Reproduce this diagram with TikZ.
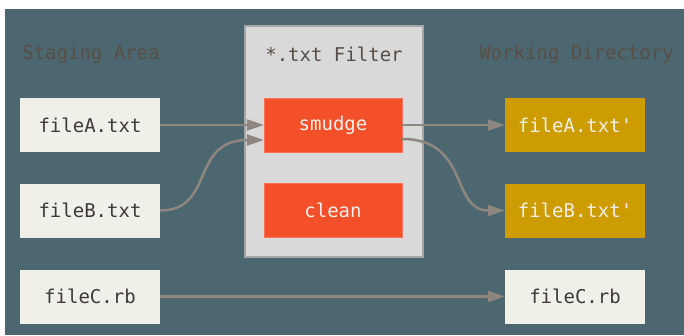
\documentclass[tikz,border=0pt]{standalone}
\usepackage{fontspec}
\setmonofont{DejaVu Sans Mono}
\usetikzlibrary{arrows.meta}

\definecolor{slatebg}{RGB}{76,103,112}
\definecolor{paper}{RGB}{240,239,232}
\definecolor{gitred}{RGB}{243,80,41}
\definecolor{gold}{RGB}{204,156,0}
\definecolor{filtergray}{RGB}{217,217,217}
\definecolor{filteredge}{RGB}{166,166,166}
\definecolor{wire}{RGB}{141,135,127}
\definecolor{headtxt}{RGB}{88,78,70}
\definecolor{inktxt}{RGB}{62,58,54}

\tikzset{
  filebox/.style={fill=paper,minimum width=140pt,minimum height=54pt,inner sep=0pt,text=inktxt,font=\ttfamily\fontsize{19}{22}\selectfont},
  outbox/.style={filebox,fill=gold,text=paper},
  filterbox/.style={filebox,fill=gitred,draw=gitred!80!white,minimum width=138pt,text=paper},
  headline/.style={text=headtxt,font=\ttfamily\fontsize{19}{22}\selectfont,inner sep=0pt},
  wirearrow/.style={draw=wire,line width=2.5pt,-{Triangle[length=17pt,width=11pt]}}
}

\begin{document}
\begin{tikzpicture}[x=1pt,y=-1pt]
\useasboundingbox (0,0) rectangle (684,335);
\fill[white] (0,0) rectangle (684,335);
\fill[slatebg] (5,9) rectangle (684,335);
% filter frame
\node[draw=filteredge,line width=2pt,fill=filtergray,minimum width=178pt,minimum height=231pt,inner sep=0pt] (frame) at (333.5,141) {};
% headings
\node[headline] (stage) at (91,54) {Staging Area};
\node[headline] (filt) at (334,54) {*.txt Filter};
\node[headline] (work) at (576.5,54) {Working Directory};
% staging area
\node[filebox] (inA) at (90,125) {fileA.txt};
\node[filebox] (inB) at (90,210.5) {fileB.txt};
\node[filebox] (inC) at (90,296.5) {fileC.rb};
% filter steps
\node[filterbox] (smudge) at (333,125) {smudge};
\node[filterbox] (clean) at (333,210) {clean};
% working directory
\node[outbox] (outA) at (575,125) {fileA.txt'};
\node[outbox] (outB) at (575,210.5) {fileB.txt'};
\node[filebox] (outC) at (575,296.5) {fileC.rb};
% connectors
\draw[wirearrow] (inA.east)--(smudge.west);
\draw[wirearrow] (inB.east) .. controls (215,210.5) and (190,140) .. ([yshift=-15pt]smudge.west);
\draw[wirearrow] (smudge.east)--(outA.west);
\draw[wirearrow] ([yshift=-14pt]smudge.east) .. controls (470,139) and (450,210.5) .. (outB.west);
\draw[wirearrow] (inC.east)--(outC.west);
\end{tikzpicture}
\end{document}
